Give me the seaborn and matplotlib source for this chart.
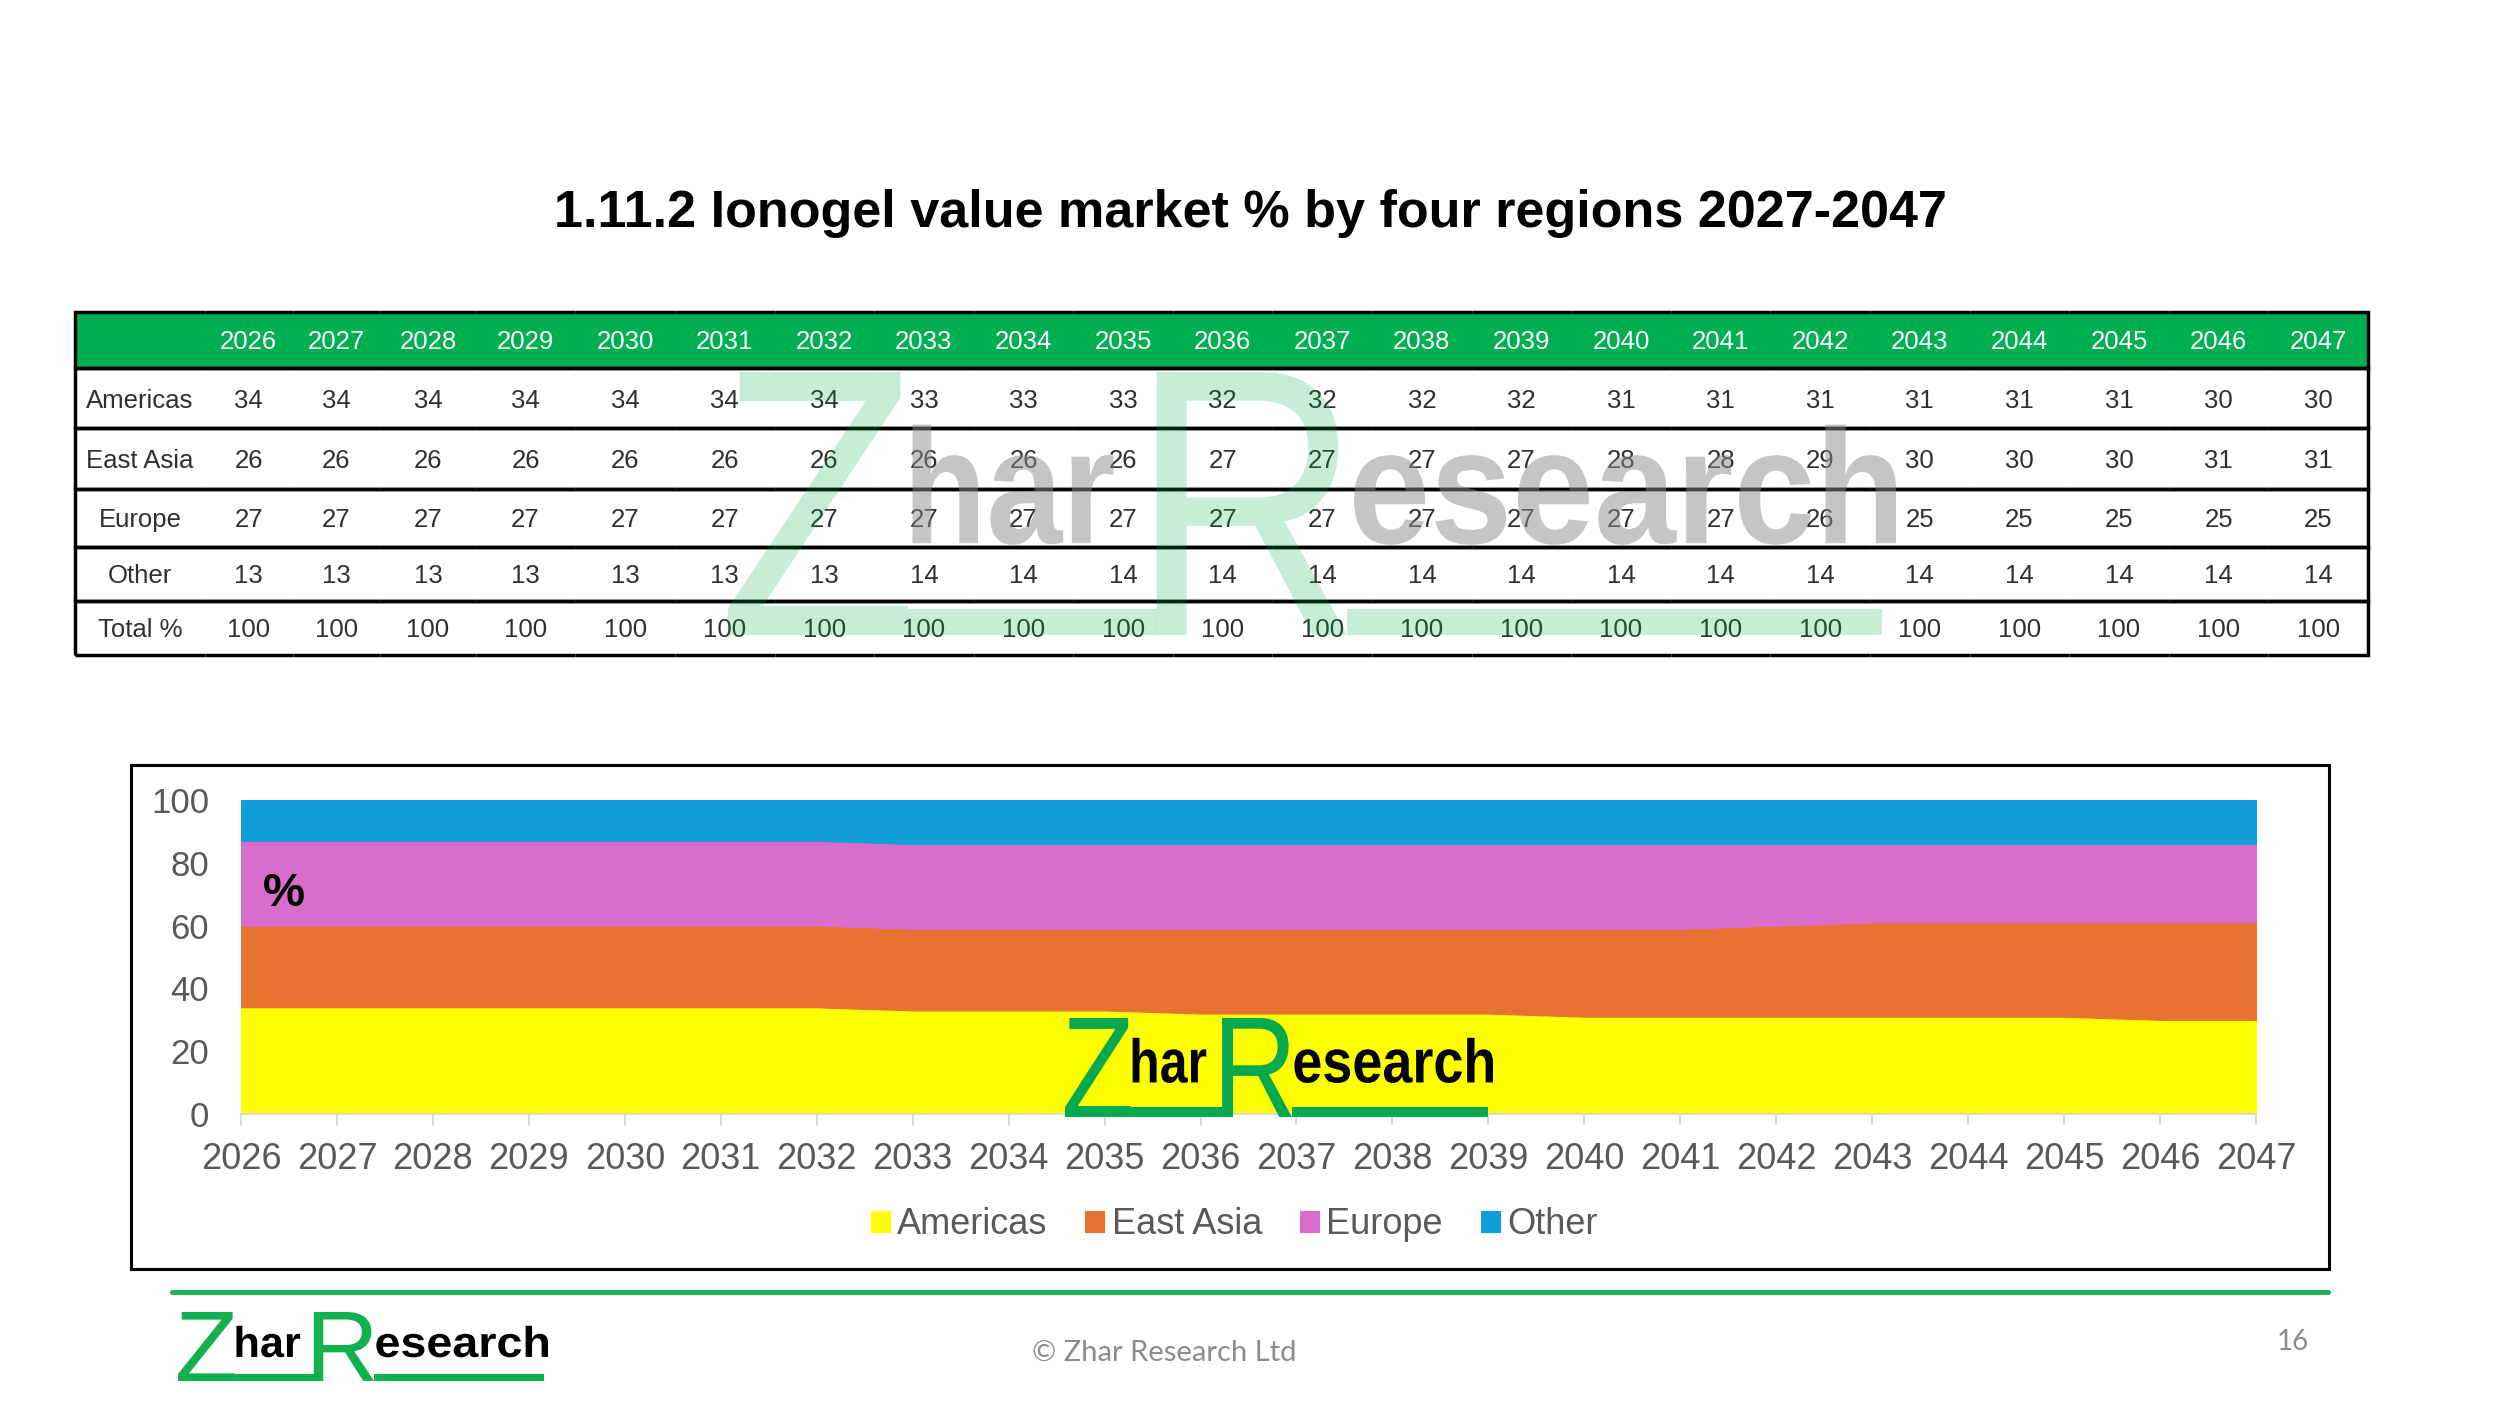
import matplotlib
matplotlib.use("Agg")
import matplotlib.pyplot as plt
import seaborn as sns
from matplotlib.textpath import TextPath
from matplotlib.font_manager import FontProperties
from matplotlib.patches import PathPatch, Rectangle
from matplotlib.lines import Line2D
from matplotlib.transforms import Affine2D

# data (% share of Ionogel value market)
years = list(range(2026, 2048))
americas = [34, 34, 34, 34, 34, 34, 34, 33, 33, 33, 32, 32, 32, 32, 31, 31, 31, 31, 31, 31, 30, 30]
east_asia = [26, 26, 26, 26, 26, 26, 26, 26, 26, 26, 27, 27, 27, 27, 28, 28, 29, 30, 30, 30, 31, 31]
europe = [27, 27, 27, 27, 27, 27, 27, 27, 27, 27, 27, 27, 27, 27, 27, 27, 26, 25, 25, 25, 25, 25]
other = [13, 13, 13, 13, 13, 13, 13, 14, 14, 14, 14, 14, 14, 14, 14, 14, 14, 14, 14, 14, 14, 14]
regions = ["Americas", "East Asia", "Europe", "Other"]
colors = ["#FFFF00", "#E97132", "#D86DCB", "#0F9ED5"]

title = "1.11.2 Ionogel value market % by four regions 2027-2047"

sns.set_theme(style="white")
plt.rcParams["font.family"] = ["Liberation Sans", "DejaVu Sans"]

W, H = 2500, 1406
fig = plt.figure(figsize=(25, 14.06), dpi=100)
fig.patch.set_facecolor("white")


def fx(px):
    return px / W


def fy(py):
    return 1 - py / H


def put_glyph(text, box, color, weight="normal", alpha=1.0):
    # squeeze a text outline into a pixel box (x0, y0, x1, y1), y measured from top
    tp = TextPath((0, 0), text, size=100, prop=FontProperties(family="Liberation Sans", weight=weight))
    ext = tp.get_extents()
    x0, y0, x1, y1 = box
    tr = (Affine2D().translate(-ext.x0, -ext.y0)
          .scale((fx(x1) - fx(x0)) / ext.width, (fy(y0) - fy(y1)) / ext.height)
          .translate(fx(x0), fy(y1)))
    fig.add_artist(PathPatch(tr.transform_path(tp), transform=fig.transFigure,
                             fc=color, ec="none", alpha=alpha, zorder=5))


def put_rect(box, color, alpha=1.0):
    x0, y0, x1, y1 = box
    fig.add_artist(Rectangle((fx(x0), fy(y1)), fx(x1) - fx(x0), fy(y0) - fy(y1),
                             transform=fig.transFigure, fc=color, ec="none", alpha=alpha, zorder=5))


def draw_logo(x0, y0, x1, y1, green, dark, alpha=1.0, dark_alpha=1.0):
    w, h = x1 - x0, y1 - y0

    def b(a, c, d, e):
        return (x0 + a * w, y0 + c * h, x0 + d * w, y0 + e * h)

    put_glyph("Z", b(0, 0, 0.154, 1), green, alpha=alpha)
    put_rect(b(0.154, 0.9, 0.367, 1), green, alpha=alpha)
    put_glyph("har", b(0.158, 0.2, 0.33, 0.657), dark, "bold", alpha=dark_alpha)
    put_glyph("R", b(0.367, 0, 0.53, 1), green, alpha=alpha)
    put_rect(b(0.53, 0.9, 0.988, 1), green, alpha=alpha)
    put_glyph("esearch", b(0.536, 0.2, 1.0, 0.657), dark, "bold", alpha=dark_alpha)


# title
fig.text(fx(1250), fy(227), title, ha="center", va="baseline",
         fontsize=37.5, fontweight="bold", color="black")

# table
tax = fig.add_axes([fx(75), fy(655), fx(2368) - fx(75), fy(312) - fy(655)])
tax.axis("off")
header = [""] + [str(y) for y in years]
rows = [[name] + [str(v) for v in vals]
        for name, vals in zip(regions, [americas, east_asia, europe, other])]
totals = [a + b + c + d for a, b, c, d in zip(americas, east_asia, europe, other)]
rows.append(["Total %"] + [str(t) for t in totals])
col_w = [81.5, 55, 55, 60] + [62.5] * 19
row_h = [35, 38, 38, 36, 34, 34]
tax.add_patch(Rectangle((0, 1 - row_h[0] / sum(row_h)), 1, row_h[0] / sum(row_h),
                        transform=tax.transAxes, fc="#00B050", ec="none", zorder=1))
tbl = tax.table(cellText=[header] + rows, cellLoc="center", colWidths=col_w, bbox=[0, 0, 1, 1])
tbl.set_zorder(3)
tbl.auto_set_font_size(False)
tbl.set_fontsize(18.5)
ncols = len(header)
for (r, c), cell in tbl.get_celld().items():
    cell.set_height(row_h[r])
    cell.set_linewidth(2.5)
    cell.set_edgecolor("black")
    cell.set_facecolor("none")
    if c == 0:
        cell.visible_edges = "BTL"
    elif c == ncols - 1:
        cell.visible_edges = "BTR"
    else:
        cell.visible_edges = "BT"
    cell.get_text().set_color("white" if r == 0 else "#303030")
    cell.get_text().set_va("center_baseline")

# table watermark
draw_logo(728, 372, 1896, 635, "#00B050", "#8c8c8c", alpha=0.22, dark_alpha=0.5)

# stacked area chart
ax = fig.add_axes([fx(241), fy(1114), fx(2256) - fx(241), fy(800) - fy(1114)])
ax.stackplot(years, americas, east_asia, europe, other, colors=colors, labels=regions,
             edgecolor="face", linewidth=0.8)
ax.set_xlim(2026, 2047)
ax.set_ylim(0, 100)
ax.set_xticks(years)
ax.set_yticks(range(0, 101, 20))
ax.set_facecolor("white")
for s in ["top", "right", "left"]:
    ax.spines[s].set_visible(False)
ax.spines["bottom"].set_color("#d9d9d9")
ax.spines["bottom"].set_linewidth(1.5)
ax.spines["bottom"].set_zorder(3)
ax.tick_params(axis="x", direction="out", length=8, width=1.5, color="#d9d9d9",
               labelsize=26, labelcolor="#595959", pad=12, bottom=True)
ax.tick_params(axis="y", length=0, labelsize=25, labelcolor="#595959", pad=23)
ax.grid(False)
ax.text(0.011, 0.70, "%", transform=ax.transAxes, ha="left", va="center",
        fontsize=34, fontweight="bold", color="black")
ax.legend(loc="center", bbox_to_anchor=(fx(1234), fy(1225)), bbox_transform=fig.transFigure,
          ncol=4, frameon=False, fontsize=26, labelcolor="#595959",
          handlelength=0.53, handleheight=0.53, handletextpad=0.2, columnspacing=1.05)

# chart frame
fig.add_artist(Rectangle((fx(131), fy(1269)), fx(2329) - fx(131), fy(765) - fy(1269),
                         transform=fig.transFigure, fill=False, ec="black", lw=2.2, zorder=4))

# logo inside chart
draw_logo(1065, 1018, 1493, 1117, "#06A94F", "black")

# footer
fig.add_artist(Line2D([fx(172), fx(2328)], [fy(1292), fy(1292)], transform=fig.transFigure,
                      color="#1FB25A", lw=3.6))
draw_logo(178, 1312, 548, 1381, "#12B04F", "black")
fig.text(fx(1164), fy(1353), "\u00a9 Zhar Research Ltd", ha="center", va="center",
         fontsize=21, color="#8c8c8c", family=["Lato", "DejaVu Sans"])
fig.text(fx(2293), fy(1342), "16", ha="center", va="center",
         fontsize=20, color="#8c8c8c", family=["Lato", "DejaVu Sans"])

fig.savefig("out.png", dpi=100, facecolor="white")
